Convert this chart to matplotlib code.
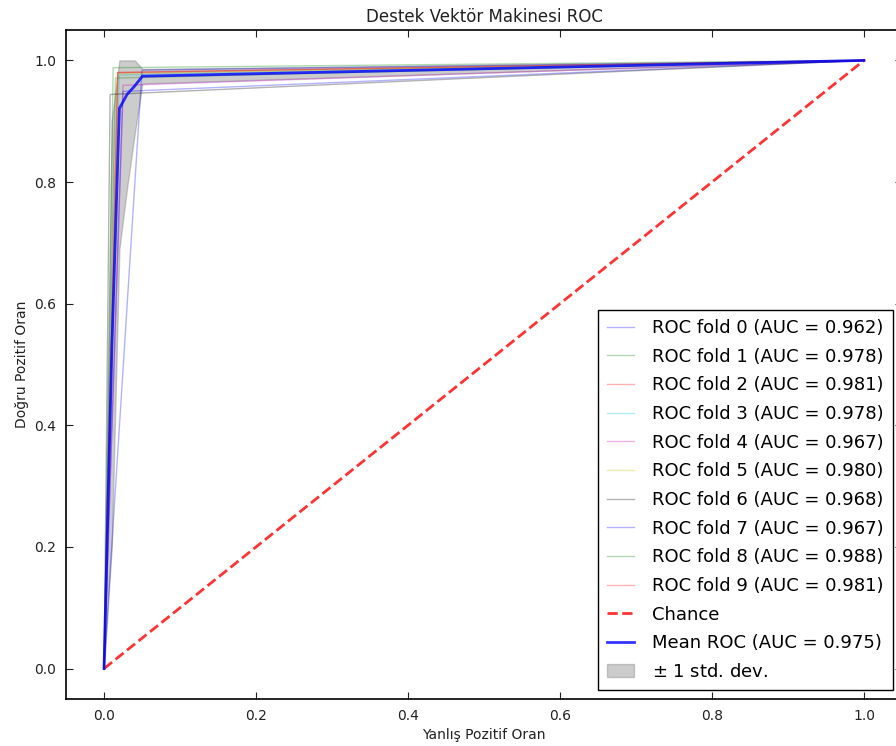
import numpy as np
import matplotlib
matplotlib.use('Agg')
import matplotlib.pyplot as plt

# fold ROC curves: (0,0) -> (fpr, tpr) -> (1,1)
fold_fpr = [0.025, 0.015, 0.018, 0.020, 0.025, 0.018, 0.008, 0.050, 0.012, 0.018]
fold_tpr = [0.949, 0.971, 0.980, 0.976, 0.959, 0.978, 0.944, 0.984, 0.988, 0.980]
fold_auc = [0.962, 0.978, 0.981, 0.978, 0.967, 0.980, 0.968, 0.967, 0.988, 0.981]
fold_colors = ['b', 'g', 'r', 'c', 'm', 'y', 'k', 'b', 'g', 'r']

# mean ROC and std band
mean_fpr = [0.0, 0.0101, 0.0202, 0.0303, 0.0404, 0.0505, 1.0]
mean_tpr = [0.0, 0.52, 0.921, 0.944, 0.958, 0.974, 1.0]
band_lo = [0.0, 0.20, 0.69, 0.79, 0.88, 0.962, 1.0]
band_hi = [0.0, 0.90, 1.0, 1.0, 1.0, 0.986, 1.0]
mean_auc = 0.975

plt.rcParams['font.family'] = ['DejaVu Sans']
plt.rcParams['axes.linewidth'] = 1.2

fig = plt.figure(figsize=(8.96, 7.46), dpi=100)
ax = fig.add_axes([0.0737, 0.063, 0.933, 0.8968])

for i in range(len(fold_fpr)):
    ax.plot([0, fold_fpr[i], 1], [0, fold_tpr[i], 1], lw=1, alpha=0.3,
            color=fold_colors[i],
            label='ROC fold %d (AUC = %0.3f)' % (i, fold_auc[i]))

ax.plot([0, 1], [0, 1], linestyle='--', lw=2, color='r', alpha=0.8, label='Chance')
ax.plot(mean_fpr, mean_tpr, color='b', lw=2, alpha=0.8,
        label='Mean ROC (AUC = %0.3f)' % mean_auc)
ax.fill_between(mean_fpr, band_lo, band_hi, facecolor='grey', edgecolor='grey',
                alpha=0.4, lw=1, label=r'$\pm$ 1 std. dev.')

ax.set_xlim(-0.05, 1.05)
ax.set_ylim(-0.05, 1.05)
ax.set_xticks([0.0, 0.2, 0.4, 0.6, 0.8, 1.0])
ax.set_yticks([0.0, 0.2, 0.4, 0.6, 0.8, 1.0])
ax.tick_params(direction='in', top=True, right=True, length=5, width=0.8,
               labelsize=10, pad=7, colors='#222222')
ax.set_xlabel('Yanlış Pozitif Oran', fontsize=10, color='#222222')
ax.set_ylabel('Doğru Pozitif Oran', fontsize=10, color='#222222')
ax.set_title('Destek Vektör Makinesi ROC', fontsize=12, color='#222222', pad=6)

leg = ax.legend(loc='lower right', fontsize=13, fancybox=False, framealpha=1,
                edgecolor='black', labelspacing=0.59, handlelength=1.5,
                handletextpad=1.0, borderpad=0.5, borderaxespad=0.5)
leg.get_frame().set_linewidth(1.0)

fig.savefig('out.png', dpi=100)
